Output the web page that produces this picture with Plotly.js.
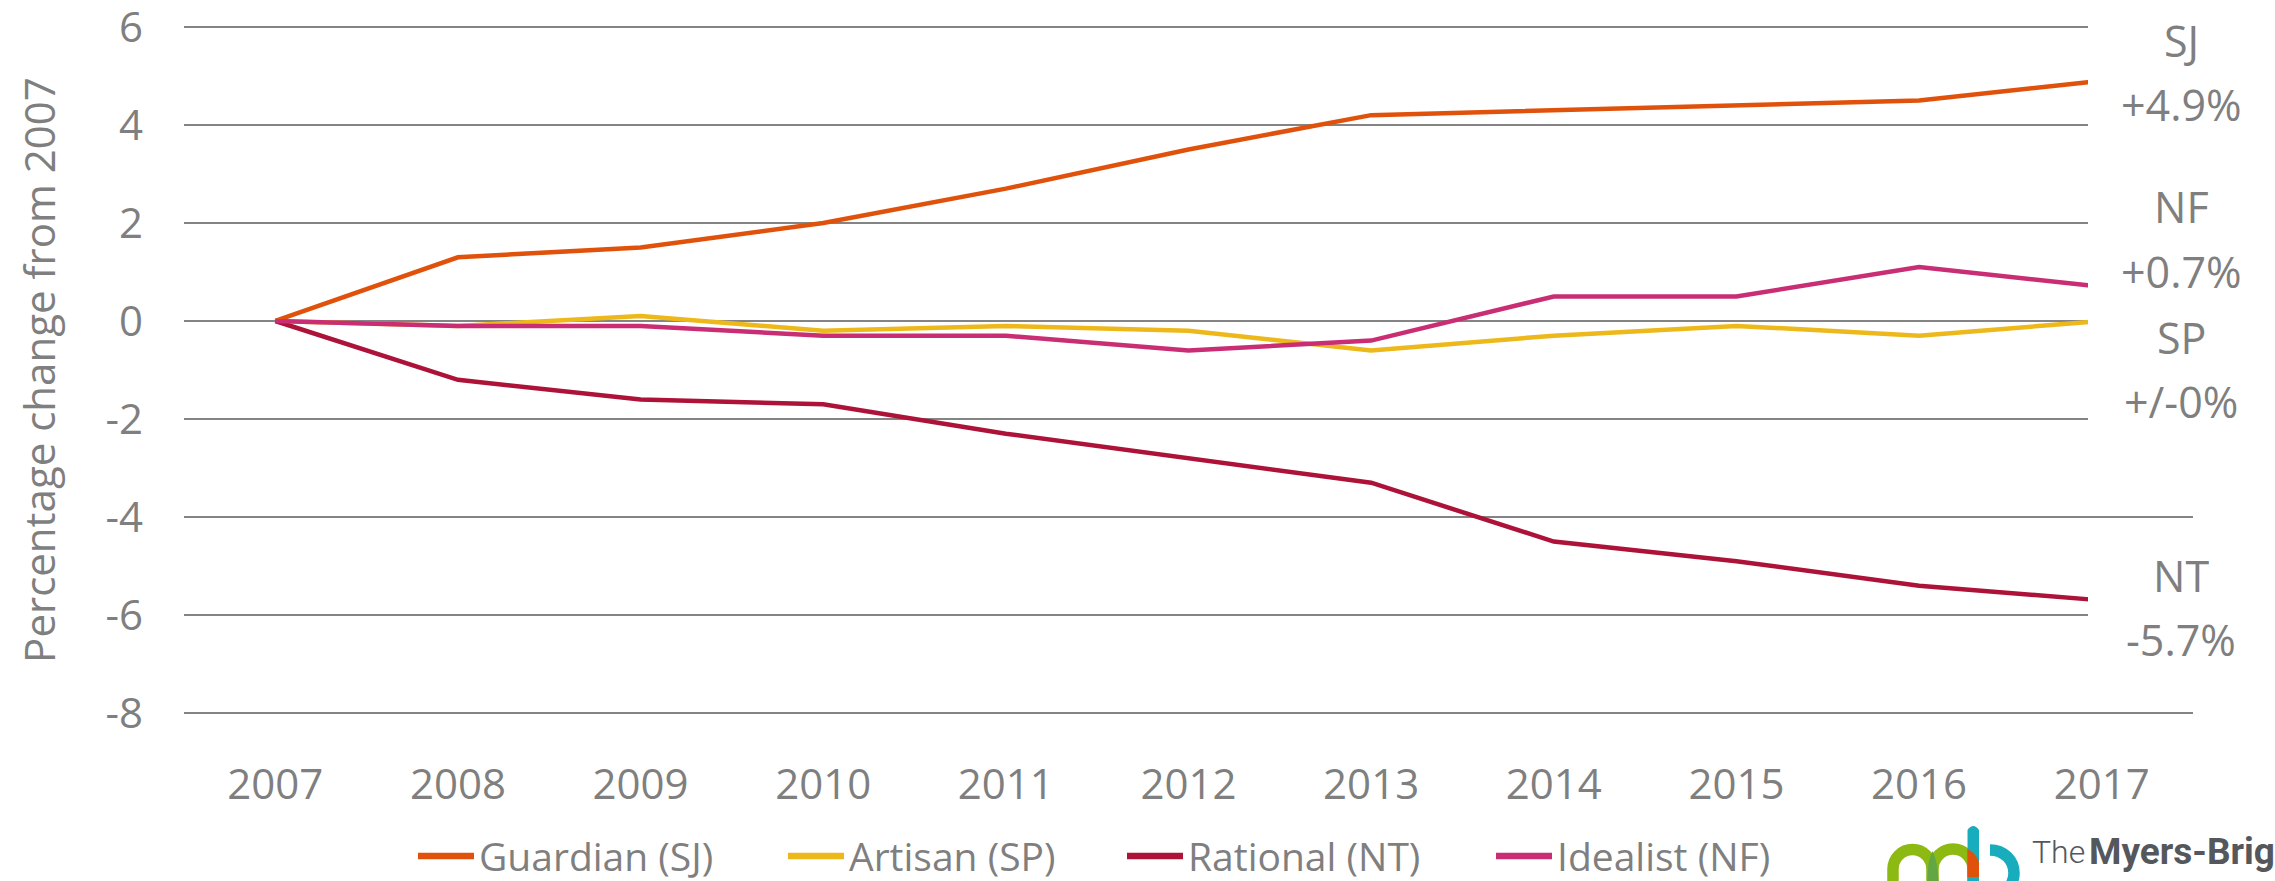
<!DOCTYPE html>
<html>
<head>
<meta charset="utf-8">
<script src="https://cdn.plot.ly/plotly-3.0.1.min.js"></script>
<style>
html,body{margin:0;padding:0;background:#fff;}
#chart{width:2275px;height:881px;}
</style>
</head>
<body>
<div id="chart"></div>
<script>
// ---------- data ----------
const years = ['2007','2008','2009','2010','2011','2012','2013','2014','2015','2016','2017'];
const guardianSJ = [0, 1.3, 1.5, 2.0, 2.7, 3.5, 4.2, 4.3, 4.4, 4.5, 4.9];
const artisanSP  = [0, -0.1, 0.1, -0.2, -0.1, -0.2, -0.6, -0.3, -0.1, -0.3, 0.0];
const rationalNT = [0, -1.2, -1.6, -1.7, -2.3, -2.8, -3.3, -4.5, -4.9, -5.4, -5.7];
const idealistNF = [0, -0.1, -0.1, -0.3, -0.3, -0.6, -0.4, 0.5, 0.5, 1.1, 0.7];
const seriesNames = ['Guardian (SJ)', 'Artisan (SP)', 'Rational (NT)', 'Idealist (NF)'];
const yTickVals = [-8, -6, -4, -2, 0, 2, 4, 6];
const yTickText = ['-8', '-6', '-4', '-2', '0', '2', '4', '6'];
const endLabelCodes = ['SJ', 'NF', 'SP', 'NT'];
const endLabelValues = ['+4.9%', '+0.7%', '+/-0%', '-5.7%'];
const axisTitle = 'Percentage change from 2007';

// ---------- styling ----------
const colors = ['#E0520B', '#EDB81A', '#AD1238', '#C92E74'];
const textColor = '#7F7F7F';
const FONT = '"Open Sans", "Noto Sans", sans-serif';

// y range padded by 0.1 units (~5px) so the gridlines at -8 and 6 are not clipped
const Y0 = -8.1, Y1 = 6.1;
const W = 2275, H = 881, ML = 184, MR = 82, MT = 22, MB = 163;
const PW = W - ML - MR, PH = H - MT - MB;
const px = x => (x - ML) / PW;
const py = y => (H - MB - y) / PH;
const P = (x, y) => px(x).toFixed(5) + ',' + py(y).toFixed(5);

const allSeries = [guardianSJ, artisanSP, rationalNT, idealistNF];
const traces = allSeries.map((s, i) => ({
  type: 'scatter', mode: 'lines', x: years, y: s, name: seriesNames[i],
  line: {color: colors[i], width: 4.5}, showlegend: false, hoverinfo: 'x+y+name'
}));

const shapes = [];
const annotations = [];

// white label boxes (cover gridlines and line ends, as in the original)
const boxes = [[0, 150], [176, 300], [306, 432], [546, 668]];
boxes.forEach(b => shapes.push({
  type: 'rect', xref: 'paper', yref: 'paper', layer: 'above',
  x0: px(2088), x1: px(2290), y0: py(b[1]), y1: py(b[0]),
  fillcolor: '#ffffff', line: {width: 0}
}));

// end labels
const labelY = [[40, 104], [207, 271], [337, 401], [575, 639]];
endLabelCodes.forEach((c, i) => {
  annotations.push({xref: 'paper', yref: 'paper', x: px(2181), y: py(labelY[i][0]),
    xanchor: 'center', yanchor: 'middle', showarrow: false, text: c,
    font: {family: FONT, size: 43, color: textColor}});
  annotations.push({xref: 'paper', yref: 'paper', x: px(2181), y: py(labelY[i][1]),
    xanchor: 'center', yanchor: 'middle', showarrow: false, text: endLabelValues[i],
    font: {family: FONT, size: 43, color: textColor}});
});

// manual legend
const legX = [418, 788, 1127, 1496];
const legY = 856;
seriesNames.forEach((n, i) => {
  shapes.push({type: 'line', xref: 'paper', yref: 'paper', layer: 'above',
    x0: px(legX[i]), x1: px(legX[i] + 56), y0: py(legY), y1: py(legY),
    line: {color: colors[i], width: 6.5}});
  annotations.push({xref: 'paper', yref: 'paper', x: px(legX[i] + 59), y: py(legY - 1),
    xanchor: 'left', yanchor: 'middle', showarrow: false, text: n,
    font: {family: FONT, size: 39, color: textColor}});
});

// logo (The Myers-Briggs Company), partially cropped as in the original
const k = 0.5523;
function arch(cx, cy, r, bottom) {
  return 'M' + P(cx - r, bottom) + ' L' + P(cx - r, cy) +
    ' C' + P(cx - r, cy - k * r) + ' ' + P(cx - k * r, cy - r) + ' ' + P(cx, cy - r) +
    ' C' + P(cx + k * r, cy - r) + ' ' + P(cx + r, cy - k * r) + ' ' + P(cx + r, cy) +
    ' L' + P(cx + r, bottom);
}
const green = '#8CBA12', teal = '#17ADBD';
shapes.push({type: 'path', xref: 'paper', yref: 'paper', layer: 'above',
  path: arch(1912.5, 869, 19.5, 900), line: {color: green, width: 11.5}});
shapes.push({type: 'path', xref: 'paper', yref: 'paper', layer: 'above',
  path: arch(1953, 869, 20, 900), line: {color: green, width: 11.5}});
// darker overlap lens
shapes.push({type: 'path', xref: 'paper', yref: 'paper', layer: 'above',
  path: 'M' + P(1932.5, 851) + ' Q' + P(1927, 862) + ' ' + P(1927.5, 881) + ' L' + P(1938.5, 881) +
        ' Q' + P(1938, 862) + ' ' + P(1932.5, 851) + ' Z',
  fillcolor: '#62A744', line: {width: 0}});
// teal stem
shapes.push({type: 'path', xref: 'paper', yref: 'paper', layer: 'above',
  path: 'M' + P(1967.5, 900) + ' L' + P(1967.5, 830) + ' Q' + P(1973.3, 822) + ' ' + P(1979, 830) +
        ' L' + P(1979, 900) + ' Z',
  fillcolor: teal, line: {width: 0}});
// orange overlap
shapes.push({type: 'path', xref: 'paper', yref: 'paper', layer: 'above',
  path: 'M' + P(1967.5, 849) + ' Q' + P(1976, 853) + ' ' + P(1979, 862) + ' L' + P(1979, 877) +
        ' L' + P(1967.5, 877) + ' Z',
  fillcolor: '#E0520B', line: {width: 0}});
// teal bowl
(function () {
  const cx = 1991, cy = 873, r = 23;
  shapes.push({type: 'path', xref: 'paper', yref: 'paper', layer: 'above',
    path: 'M' + P(cx - 1, cy - r) +
      ' C' + P(cx + k * r, cy - r) + ' ' + P(cx + r, cy - k * r) + ' ' + P(cx + r, cy) +
      ' C' + P(cx + r, cy + k * r) + ' ' + P(cx + k * r, cy + r) + ' ' + P(cx, cy + r),
    line: {color: teal, width: 11.5}});
})();
annotations.push({xref: 'paper', yref: 'paper', x: px(2030), y: py(852),
  xanchor: 'left', yanchor: 'middle', showarrow: false, align: 'left',
  text: '<span style="font-weight:300">The</span>',
  font: {family: 'Roboto, "Open Sans", sans-serif', size: 32, color: '#54575C'}});
annotations.push({xref: 'paper', yref: 'paper', x: px(2087), y: py(851),
  xanchor: 'left', yanchor: 'middle', showarrow: false, align: 'left',
  text: '<b>Myers-Briggs</b>',
  font: {family: 'Roboto, "Open Sans", sans-serif', size: 37, color: '#54575C'}});
annotations.push({xref: 'paper', yref: 'paper', x: px(2031), y: py(893),
  xanchor: 'left', yanchor: 'middle', showarrow: false, align: 'left',
  text: 'Company', font: {family: 'Roboto, "Open Sans", sans-serif', size: 34, color: '#54575C'}});

const layout = {
  width: W, height: H,
  margin: {l: ML, r: MR, t: MT, b: MB, pad: 0},
  paper_bgcolor: '#ffffff', plot_bgcolor: '#ffffff',
  showlegend: false,
  font: {family: FONT, color: textColor},
  xaxis: {
    type: 'category', range: [-0.5, 10.5], showgrid: false, zeroline: false,
    showline: false, ticks: '', tickfont: {family: FONT, size: 42, color: textColor},
    ticklabelstandoff: 38, fixedrange: true, automargin: false
  },
  yaxis: {
    range: [Y0, Y1], tickvals: yTickVals, ticktext: yTickText,
    showgrid: true, gridcolor: '#848484', gridwidth: 2, zeroline: false,
    showline: false, ticks: '', tickfont: {family: FONT, size: 42, color: textColor},
    ticklabelstandoff: 40, ticklabeloverflow: 'allow', fixedrange: true,
    title: {text: axisTitle, standoff: 36, font: {family: FONT, size: 42, color: textColor}},
    automargin: 'left'
  },
  shapes: shapes,
  annotations: annotations
};

Plotly.newPlot('chart', traces, layout, {displayModeBar: false, staticPlot: true});
</script>
</body>
</html>
